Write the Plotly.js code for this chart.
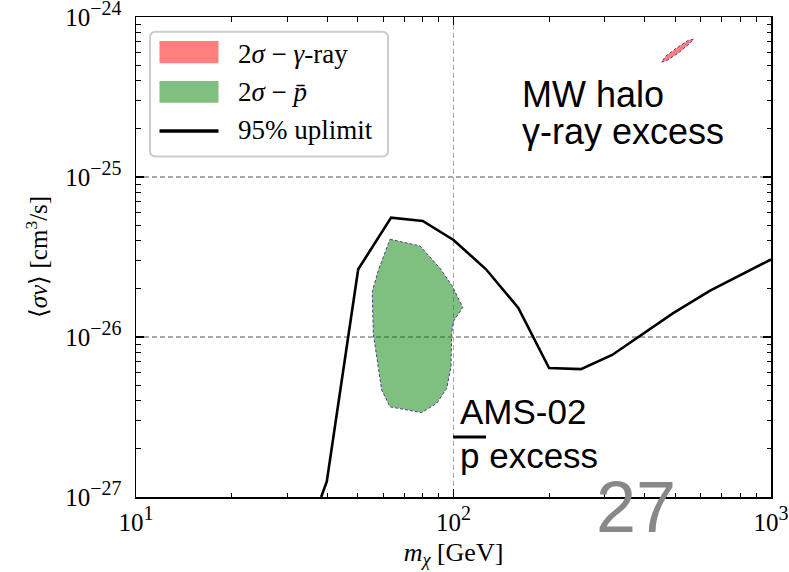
<!DOCTYPE html>
<html>
<head>
<meta charset="utf-8">
<script src="https://cdn.plot.ly/plotly-3.0.1.min.js"></script>
<style>
html,body{margin:0;padding:0;background:#fff;}
#chart{width:789px;height:572px;}
</style>
</head>
<body>
<div id="chart"></div>
<script>
// ---- data ----
const limitMass = [38.3, 39.9, 50.1, 63.6, 80.0, 100, 126.6, 160, 200, 252, 316, 492, 643, 1000];
const limitSigv = [1.0e-27, 1.25e-27, 2.65e-26, 5.57e-26, 5.31e-26, 4.04e-26, 2.65e-26, 1.52e-26, 6.4e-27, 6.3e-27, 7.72e-27, 1.41e-26, 1.95e-26, 3.05e-26];

const pbarMass = [63.1, 78.4, 90.7, 99.4, 106.9, 99.9, 98.7, 98.2, 95.2, 88.5, 79.4, 63.1, 59.4, 55.9, 55.5, 58.0, 63.1];
const pbarSigv = [4.08e-26, 3.71e-26, 2.69e-26, 2.06e-26, 1.53e-26, 1.25e-26, 1.05e-26, 6.52e-27, 4.78e-27, 3.85e-27, 3.37e-27, 3.66e-27, 4.67e-27, 1.05e-26, 1.92e-26, 2.62e-26, 4.08e-26];

const gammaMass = [451.9, 470.3, 513.1, 551.6, 570.0, 547.7, 502.1, 467.0, 451.9];
const gammaSigv = [5.23e-25, 5.35e-25, 6.0e-25, 6.78e-25, 7.28e-25, 7.13e-25, 6.36e-25, 5.71e-25, 5.23e-25];

const xTickVals = [10, 100, 1000];
const xTickExp = ['1', '2', '3'];
const yTickVals = [1e-27, 1e-26, 1e-25, 1e-24];
const yTickExp = ['−27', '−26', '−25', '−24'];
const xMinorVals = [20, 30, 40, 50, 60, 70, 80, 90, 200, 300, 400, 500, 600, 700, 800, 900];
const yMinorVals = [2e-27,3e-27,4e-27,5e-27,6e-27,7e-27,8e-27,9e-27,
                    2e-26,3e-26,4e-26,5e-26,6e-26,7e-26,8e-26,9e-26,
                    2e-25,3e-25,4e-25,5e-25,6e-25,7e-25,8e-25,9e-25];

const legendLabels = ['2<i>σ</i> − <i>γ</i>-ray', '2<i>σ</i> − <i>p̄</i>', '95% uplimit'];

// ---- layout helpers (pixel -> paper) ----
const L = 136, R = 771, T = 17, B = 497;
const W = R - L, H = B - T;
const px = v => (v - L) / W;
const py = v => (B - v) / H;

const serif = 'Liberation Serif, Times New Roman, serif';
const sans = 'Liberation Sans, Arial, sans-serif';

const powLabel = e => '10<sup><span style="font-size:20px">' + e + '</span></sup>';

const traces = [
  {
    x: gammaMass, y: gammaSigv, type: 'scatter', mode: 'lines',
    fill: 'toself', fillcolor: 'rgba(255,0,0,0.5)',
    line: {color: '#5b3a8a', width: 1, dash: '3px,2px'},
    showlegend: false, hoverinfo: 'skip'
  },
  {
    x: pbarMass, y: pbarSigv, type: 'scatter', mode: 'lines',
    fill: 'toself', fillcolor: 'rgba(0,128,0,0.5)',
    line: {color: '#5b3a8a', width: 1, dash: '3px,2px'},
    showlegend: false, hoverinfo: 'skip'
  },
  {
    x: limitMass, y: limitSigv, type: 'scatter', mode: 'lines',
    line: {color: 'black', width: 2.6},
    showlegend: false, hoverinfo: 'skip'
  }
];

// legend box (rounded)
const lx0 = px(150), lx1 = px(388), ly0 = py(156.5), ly1 = py(31.7);
const rx = 6 / W, ry = 6 / H;
const boxPath = `M${lx0+rx},${ly0} L${lx1-rx},${ly0} Q${lx1},${ly0} ${lx1},${ly0+ry} L${lx1},${ly1-ry} Q${lx1},${ly1} ${lx1-rx},${ly1} L${lx0+rx},${ly1} Q${lx0},${ly1} ${lx0},${ly1-ry} L${lx0},${ly0+ry} Q${lx0},${ly0} ${lx0+rx},${ly0} Z`;

const shapes = [
  {type: 'path', xref: 'paper', yref: 'paper', path: boxPath,
   fillcolor: 'rgba(255,255,255,0.85)', line: {color: '#cccccc', width: 2}, layer: 'above'},
  {type: 'rect', xref: 'paper', yref: 'paper', x0: px(159.5), x1: px(218.5), y0: py(63.3), y1: py(41),
   fillcolor: 'rgba(255,0,0,0.5)', line: {width: 0}, layer: 'above'},
  {type: 'rect', xref: 'paper', yref: 'paper', x0: px(159.5), x1: px(218.5), y0: py(102.7), y1: py(81),
   fillcolor: 'rgba(0,128,0,0.5)', line: {width: 0}, layer: 'above'},
  {type: 'line', xref: 'paper', yref: 'paper', x0: px(159.5), x1: px(218.5), y0: py(131), y1: py(131),
   line: {color: 'black', width: 3.5}, layer: 'above'},
  // overline over "p"
  {type: 'line', xref: 'paper', yref: 'paper', x0: px(453), x1: px(486), y0: py(437), y1: py(437),
   line: {color: 'black', width: 3}, layer: 'above'}
];

const ann = (text, x, y, size, family, color, xanchor, h) => {
  const a = {
    text: text, xref: 'paper', yref: 'paper', x: px(x), y: py(y),
    xanchor: xanchor || 'left', yanchor: 'middle', showarrow: false,
    font: {family: family, size: size, color: color || 'black'}
  };
  if (h) { a.height = h; a.valign = 'middle'; }
  return a;
};

const annotations = [
  ann(legendLabels[0], 236, 53.5, 27, serif),
  ann(legendLabels[1], 236, 92, 27, serif),
  ann(legendLabels[2], 236, 129.5, 27, serif),
  ann('MW halo', 520, 94, 36, sans, null, null, 28),
  ann('γ-ray excess', 520, 131, 36, sans, null, null, 40),
  ann('AMS-02', 458, 410.5, 35, sans, null, null, 30),
  ann('p excess', 458, 455, 35, sans),
  ann('27', 636, 507, 72, sans, '#888888', 'center')
];

const axisCommon = {
  type: 'log',
  showline: true, linecolor: 'black', linewidth: 1.5, mirror: 'ticks',
  ticks: 'inside', ticklen: 8, tickwidth: 1.3, tickcolor: 'black',
  showgrid: true, gridcolor: '#a8a8a8', gridwidth: 1.1, griddash: '5px,3px',
  zeroline: false, ticklabeloverflow: 'allow',
  tickfont: {family: serif, size: 25, color: 'black'}
};

const layout = {
  width: 789, height: 572,
  margin: {l: L, r: 789 - R, t: T, b: 572 - B},
  paper_bgcolor: 'white', plot_bgcolor: 'white',
  showlegend: false,
  xaxis: Object.assign({}, axisCommon, {
    range: [1, 3],
    tickmode: 'array', tickvals: xTickVals, ticktext: xTickExp.map(powLabel),
    ticklabelstandoff: 2,
    minor: {tickmode: 'array', tickvals: xMinorVals, ticks: 'inside', ticklen: 4.5, tickwidth: 1, tickcolor: 'black', showgrid: false},
    title: {text: '<i>m</i><sub><i>χ</i></sub> [GeV]', font: {family: serif, size: 26, color: 'black'}, standoff: 8}
  }),
  yaxis: Object.assign({}, axisCommon, {
    range: [-27, -24],
    tickmode: 'array', tickvals: yTickVals, ticktext: yTickExp.map(powLabel),
    ticklabelstandoff: 8,
    minor: {tickmode: 'array', tickvals: yMinorVals, ticks: 'inside', ticklen: 4.5, tickwidth: 1, tickcolor: 'black', showgrid: false},
    title: {text: '⟨<i>σv</i>⟩ [cm<sup>3</sup>/s]', font: {family: serif, size: 25, color: 'black'}, standoff: 10}
  }),
  shapes: shapes,
  annotations: annotations
};

Plotly.newPlot('chart', traces, layout, {displayModeBar: false, staticPlot: true});
</script>
</body>
</html>
